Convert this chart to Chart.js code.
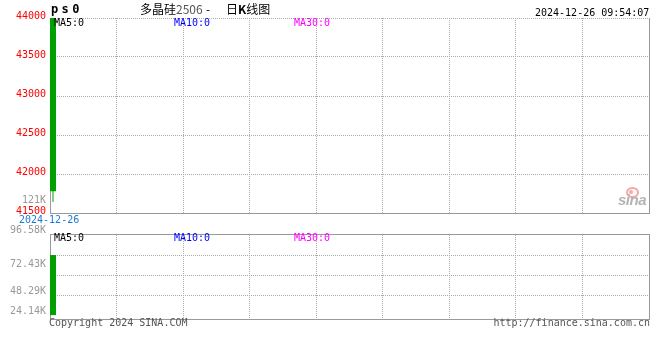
<!DOCTYPE html>
<html>
<head>
<meta charset="utf-8">
<title>多晶硅2506 - 日K线图</title>
<script src="https://cdn.jsdelivr.net/npm/chart.js@4.4.1/dist/chart.umd.min.js"></script>
<style>
html,body{margin:0;padding:0;background:#fff;}
#wrap{position:relative;width:660px;height:360px;overflow:hidden;background:#fff;}
#wrap canvas{position:absolute;left:0;top:0;}
.t{position:absolute;white-space:pre;font-family:"DejaVu Sans Mono",monospace;font-size:10px;line-height:12px;color:#000;}
.cjk{font-family:"Noto Sans CJK SC",sans-serif;font-size:12px;line-height:12px;}
</style>
</head>
<body>
<div id="wrap">
  <canvas id="kline" width="660" height="360"></canvas>
  <canvas id="volume" width="660" height="360"></canvas>

  <div class="t" style="left:51px;top:3px;font-weight:bold;font-size:12px;letter-spacing:3.4px;">ps0</div>
  <div class="t cjk" style="left:140px;top:3px;">多晶硅<span style="color:#555">2506</span></div>
  <div class="t cjk" style="left:206px;top:3px;">-</div>
  <div class="t cjk" style="left:226px;top:3px;">日<b>K</b>线图</div>
  <div class="t" style="left:535px;top:7px;">2024-12-26 09:54:07</div>

  <div class="t" style="left:54px;top:17px;color:#000;">MA5:0</div>
  <div class="t" style="left:174px;top:17px;color:#0000ff;">MA10:0</div>
  <div class="t" style="left:294px;top:17px;color:#ff00ff;">MA30:0</div>

  <div class="t" id="oiLabel" style="right:614px;top:194px;color:#999;text-align:right;"></div>
  <div class="t" id="dateLabel" style="left:19px;top:214px;color:#1a7ad4;"></div>

  <div class="t" style="left:54px;top:232px;color:#000;">MA5:0</div>
  <div class="t" style="left:174px;top:232px;color:#0000ff;">MA10:0</div>
  <div class="t" style="left:294px;top:232px;color:#ff00ff;">MA30:0</div>

  <div class="t" style="left:49px;top:317px;color:#555;">Copyright 2024 SINA.COM</div>
  <div class="t" style="right:10px;top:317px;color:#555;">http://finance.sina.com.cn</div>

  <div style="position:absolute;left:626px;top:187px;width:9px;height:7px;border:2px solid #f4a8a8;border-radius:50%;"></div>
  <div style="position:absolute;left:629px;top:190px;width:4px;height:4px;background:#f4a8a8;border-radius:50%;"></div>
  <div class="t" style="left:618px;top:192px;font-family:'Liberation Sans',sans-serif;font-size:15px;line-height:15px;font-weight:bold;font-style:italic;color:#b4b4b4;letter-spacing:-0.5px;">sina</div>
</div>

<script>
// ---- data ----
const dates = ['2024-12-26'];
const opens = [44000];
const highs = [44000];
const lows = [41640];
const closes = [41780];
const volumes = [72430];
const priceTicks = [41500, 42000, 42500, 43000, 43500, 44000];
const volTicks = [24140, 48290, 72430, 96580];
const volTickLabels = ['24.14K', '48.29K', '72.43K', '96.58K'];
const openInterestLabel = '121K';

// ---- style ----
const SLOTS = 100;
const V_DIVS = 9;
const GREEN = '#00a000';
const RED = '#ff0000';
const GRID = '#aaaaaa';
const FRAME = '#999999';
const NONE = 'rgba(0,0,0,0)';
const FONT = '"DejaVu Sans Mono", monospace';
// blank lines added before (+) / after (-) each volume label, to match the original label placement
const VOL_LABEL_SHIFT = [2, 2, 1, -1];

document.getElementById('oiLabel').textContent = openInterestLabel;
document.getElementById('dateLabel').textContent = dates[dates.length - 1];

Chart.defaults.font.family = FONT;
Chart.defaults.font.size = 10;
Chart.defaults.animation = false;

const idx = dates.map((_, i) => i);
const candleColor = i => (closes[i] >= opens[i] ? RED : GREEN);

const framePlugin = {
  id: 'frame',
  afterDraw(chart, args, opts) {
    const {ctx, chartArea: a} = chart;
    const xr = Math.round(a.right) + 0.5;
    ctx.save();
    ctx.setLineDash([]);
    ctx.lineWidth = 1;
    ctx.strokeStyle = opts.color;
    ctx.beginPath();
    ctx.moveTo(xr, Math.round(a.top) - (opts.top ? 1 : 0));
    ctx.lineTo(xr, Math.round(a.bottom) + 1);
    if (opts.top) {
      const yt = Math.round(a.top) - 0.5;
      ctx.moveTo(Math.round(a.left), yt);
      ctx.lineTo(xr + 0.5, yt);
    }
    ctx.stroke();
    ctx.restore();
  }
};

function xScale() {
  return {
    type: 'linear',
    min: -0.5,
    max: SLOTS - 0.5,
    offset: false,
    grid: {
      offset: false,
      drawTicks: false,
      lineWidth: 1,
      color: c => (c.index === 0 || c.index === V_DIVS ? NONE : GRID)
    },
    border: { display: true, color: FRAME, dash: [1, 1] },
    ticks: { display: false },
    afterBuildTicks(s) {
      s.ticks = Array.from({length: V_DIVS + 1}, (_, k) => ({ value: s.min + k * (s.max - s.min) / V_DIVS }));
    },
    afterFit(s) { s.height = 0; }
  };
}

new Chart(document.getElementById('kline'), {
  type: 'bar',
  data: {
    datasets: [
      {
        label: 'body',
        data: idx.map(i => ({ x: i, y: [closes[i], opens[i]] })),
        backgroundColor: idx.map(candleColor),
        barThickness: 6, grouped: false, inflateAmount: 0, borderWidth: 0
      },
      {
        label: 'wick',
        data: idx.map(i => ({ x: i, y: [lows[i], highs[i]] })),
        backgroundColor: idx.map(candleColor),
        barThickness: 1, grouped: false, inflateAmount: 0, borderWidth: 0
      }
    ]
  },
  options: {
    responsive: false,
    animation: false,
    events: [],
    layout: { padding: { top: 18, bottom: 147, left: 0, right: 11 } },
    plugins: {
      legend: { display: false },
      tooltip: { enabled: false },
      frame: { color: FRAME, top: false }
    },
    scales: {
      x: xScale(),
      y: {
        type: 'linear',
        min: priceTicks[0],
        max: priceTicks[priceTicks.length - 1],
        grid: {
          drawTicks: false,
          color: c => (c.tick && c.tick.value === priceTicks[0] ? NONE : GRID)
        },
        border: { display: true, color: FRAME, dash: [1, 1] },
        ticks: {
          color: '#ff0000', padding: 4, labelOffset: -2, autoSkip: false,
          font: { family: FONT, size: 10 },
          callback: v => String(v)
        },
        afterBuildTicks(s) { s.ticks = priceTicks.map(v => ({ value: v })); },
        afterFit(s) { s.width = 50; }
      }
    }
  },
  plugins: [framePlugin]
});

new Chart(document.getElementById('volume'), {
  type: 'bar',
  data: {
    datasets: [
      {
        label: 'volume',
        data: idx.map(i => ({ x: i, y: volumes[i] })),
        backgroundColor: idx.map(candleColor),
        barThickness: 6, grouped: false, inflateAmount: 0, borderWidth: 0
      }
    ]
  },
  options: {
    responsive: false,
    animation: false,
    events: [],
    layout: { padding: { top: 235, bottom: 41, left: 0, right: 11 } },
    plugins: {
      legend: { display: false },
      tooltip: { enabled: false },
      frame: { color: FRAME, top: true }
    },
    scales: {
      x: xScale(),
      y: {
        type: 'linear',
        min: -4700,
        max: volTicks[volTicks.length - 1],
        grid: {
          drawTicks: false,
          color: c => (c.tick && c.tick.value === volTicks[volTicks.length - 1] ? NONE : GRID)
        },
        border: { display: true, color: FRAME, dash: [1, 1] },
        ticks: {
          color: '#999999', padding: 4, labelOffset: 2, autoSkip: false,
          font: { family: FONT, size: 10, lineHeight: '14px' },
          callback(value, i) {
            const label = volTickLabels[volTicks.indexOf(value)];
            const n = VOL_LABEL_SHIFT[i];
            const blanks = Array(Math.abs(n)).fill('');
            return n >= 0 ? blanks.concat([label]) : [label].concat(blanks);
          }
        },
        afterBuildTicks(s) { s.ticks = volTicks.map(v => ({ value: v })); },
        afterFit(s) { s.width = 50; }
      }
    }
  },
  plugins: [framePlugin]
});
</script>
</body>
</html>
